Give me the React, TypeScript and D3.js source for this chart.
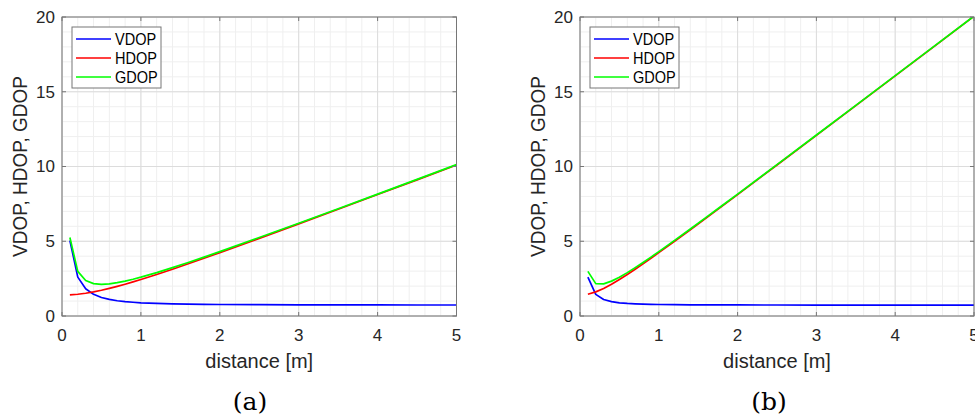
import React from 'react';
import * as d3 from 'd3';

// ---- data ----
const distance = [0.1, 0.2, 0.3, 0.4, 0.5, 0.6, 0.7, 0.8, 0.9, 1.0, 1.2, 1.4, 1.6, 1.8, 2.0, 2.5, 3.0, 3.5, 4.0, 4.5, 5.0];

const vdopA = [5.05, 2.6, 1.82, 1.45, 1.24, 1.11, 1.02, 0.96, 0.92, 0.88, 0.84, 0.81, 0.79, 0.78, 0.77, 0.755, 0.747, 0.742, 0.739, 0.736, 0.735];
const hdopA = [1.414, 1.456, 1.523, 1.612, 1.72, 1.844, 1.98, 2.126, 2.28, 2.441, 2.778, 3.13, 3.493, 3.863, 4.238, 5.192, 6.161, 7.139, 8.122, 9.108, 10.098];
const gdopA = [5.247, 2.983, 2.372, 2.166, 2.119, 2.15, 2.227, 2.333, 2.457, 2.596, 2.902, 3.234, 3.582, 3.94, 4.307, 5.247, 6.206, 7.177, 8.155, 9.138, 10.124];

const vdopB = [2.604, 1.447, 1.106, 0.96, 0.883, 0.839, 0.811, 0.792, 0.779, 0.77, 0.757, 0.75, 0.745, 0.741, 0.739, 0.735, 0.733, 0.731, 0.731, 0.73, 0.73];
const hdopB = [1.456, 1.612, 1.844, 2.126, 2.441, 2.778, 3.13, 3.493, 3.863, 4.238, 5.0, 5.772, 6.551, 7.335, 8.122, 10.098, 12.081, 14.07, 16.061, 18.054, 20.049];
const gdopB = [2.983, 2.166, 2.15, 2.333, 2.596, 2.902, 3.234, 3.582, 3.94, 4.307, 5.057, 5.821, 6.594, 7.372, 8.155, 10.124, 12.104, 14.089, 16.078, 18.069, 20.062];

const seriesNames = ['VDOP', 'HDOP', 'GDOP'];
const seriesColors = ['#0000ff', '#ff0000', '#00ff00'];

const xTicks = [0, 1, 2, 3, 4, 5];
const yTicks = [0, 5, 10, 15, 20];
const xMinorStep = 0.2;
const yMinorStep = 1;

const xLabel = 'distance [m]';
const yLabel = 'VDOP, HDOP, GDOP';

const FONT = '"Liberation Sans", Arial, Helvetica, sans-serif';
const AXIS_COLOR = '#767676';

type PanelProps = {
  id: string;
  left: number;
  right: number;
  top: number;
  bottom: number;
  series: number[][];
  caption: string;
  captionX: number;
};

function Panel({ id, left, right, top, bottom, series, caption, captionX }: PanelProps) {
  const x = d3.scaleLinear().domain([0, 5]).range([left, right]);
  const y = d3.scaleLinear().domain([0, 20]).range([bottom, top]);
  const line = d3
    .line<number>()
    .x((_, i) => x(distance[i]))
    .y((d) => y(d));

  const xMinor = d3.range(0, 5 + 1e-9, xMinorStep);
  const yMinor = d3.range(0, 20 + 1e-9, yMinorStep);
  const tickLen = 4;

  const legX = left + 10;
  const legY = top + 10;
  const legW = 89;
  const legH = 61;
  const rowY = [legY + 12, legY + 31, legY + 50];
  const midX = (left + right) / 2;

  return (
    <g>
      <defs>
        <clipPath id={id}>
          <rect x={left} y={top} width={right - left} height={bottom - top} />
        </clipPath>
      </defs>
      <rect x={left} y={top} width={right - left} height={bottom - top} fill="#ffffff" />
      {/* minor grid */}
      {xMinor.map((v, i) => (
        <line key={'xm' + i} x1={x(v)} x2={x(v)} y1={top} y2={bottom} stroke="#efefef" strokeWidth={1} />
      ))}
      {yMinor.map((v, i) => (
        <line key={'ym' + i} x1={left} x2={right} y1={y(v)} y2={y(v)} stroke="#efefef" strokeWidth={1} />
      ))}
      {/* major grid */}
      {xTicks.map((v) => (
        <line key={'xg' + v} x1={x(v)} x2={x(v)} y1={top} y2={bottom} stroke="#dcdcdc" strokeWidth={1} />
      ))}
      {yTicks.map((v) => (
        <line key={'yg' + v} x1={left} x2={right} y1={y(v)} y2={y(v)} stroke="#dcdcdc" strokeWidth={1} />
      ))}
      {/* lines */}
      <g clipPath={`url(#${id})`}>
        {series.map((s, i) => (
          <path key={i} d={line(s) || ''} fill="none" stroke={seriesColors[i]} strokeWidth={1.7} strokeLinejoin="round" />
        ))}
      </g>
      {/* box */}
      <rect x={left} y={top} width={right - left} height={bottom - top} fill="none" stroke={AXIS_COLOR} strokeWidth={1} />
      {/* ticks */}
      {xTicks.map((v) => (
        <g key={'xt' + v}>
          <line x1={x(v)} x2={x(v)} y1={bottom} y2={bottom - tickLen} stroke={AXIS_COLOR} />
          <line x1={x(v)} x2={x(v)} y1={top} y2={top + tickLen} stroke={AXIS_COLOR} />
          <text x={x(v)} y={bottom + 25} textAnchor="middle" fontFamily={FONT} fontSize={17} fill="#262626">
            {v}
          </text>
        </g>
      ))}
      {yTicks.map((v) => (
        <g key={'yt' + v}>
          <line x1={left} x2={left + tickLen} y1={y(v)} y2={y(v)} stroke={AXIS_COLOR} />
          <line x1={right} x2={right - tickLen} y1={y(v)} y2={y(v)} stroke={AXIS_COLOR} />
          <text x={left - 7} y={y(v)} dy="0.35em" textAnchor="end" fontFamily={FONT} fontSize={17} fill="#262626">
            {v}
          </text>
        </g>
      ))}
      {/* axis labels */}
      <text x={midX} y={bottom + 52} textAnchor="middle" fontFamily={FONT} fontSize={20} fill="#262626">
        {xLabel}
      </text>
      <g transform={`translate(${left - 35},${(top + bottom) / 2}) rotate(-90) scale(0.95,1)`}>
        <text x={0} y={0} textAnchor="middle" fontFamily={FONT} fontSize={20} fill="#262626">
          {yLabel}
        </text>
      </g>
      {/* legend */}
      <rect x={legX} y={legY} width={legW} height={legH} fill="#ffffff" stroke={AXIS_COLOR} strokeWidth={1} />
      {seriesNames.map((n, i) => (
        <g key={n}>
          <line x1={legX + 4} x2={legX + 39} y1={rowY[i]} y2={rowY[i]} stroke={seriesColors[i]} strokeWidth={1.7} />
          <g transform={`translate(${legX + 43},${rowY[i]}) scale(0.88,1)`}>
            <text x={0} y={0} dy="0.36em" fontFamily={FONT} fontSize={16.5} fill="#000000">
              {n}
            </text>
          </g>
        </g>
      ))}
      {/* caption */}
      <text x={captionX} y={410} textAnchor="middle" fontFamily='"DejaVu Serif", "Liberation Serif", serif' fontSize={25} fontWeight={300} fill="#000000">
        {caption}
      </text>
    </g>
  );
}

export default function App() {
  return (
    <svg
      width={975}
      height={418}
      style={{ position: 'absolute', left: 0, top: 0, display: 'block', background: '#ffffff' }}
    >
      <rect x={0} y={0} width={975} height={418} fill="#ffffff" />
      <Panel id="clipA" left={62} right={456.5} top={17} bottom={316} series={[vdopA, hdopA, gdopA]} caption="(a)" captionX={250} />
      <Panel id="clipB" left={580} right={974} top={17} bottom={316} series={[vdopB, hdopB, gdopB]} caption="(b)" captionX={769} />
    </svg>
  );
}
